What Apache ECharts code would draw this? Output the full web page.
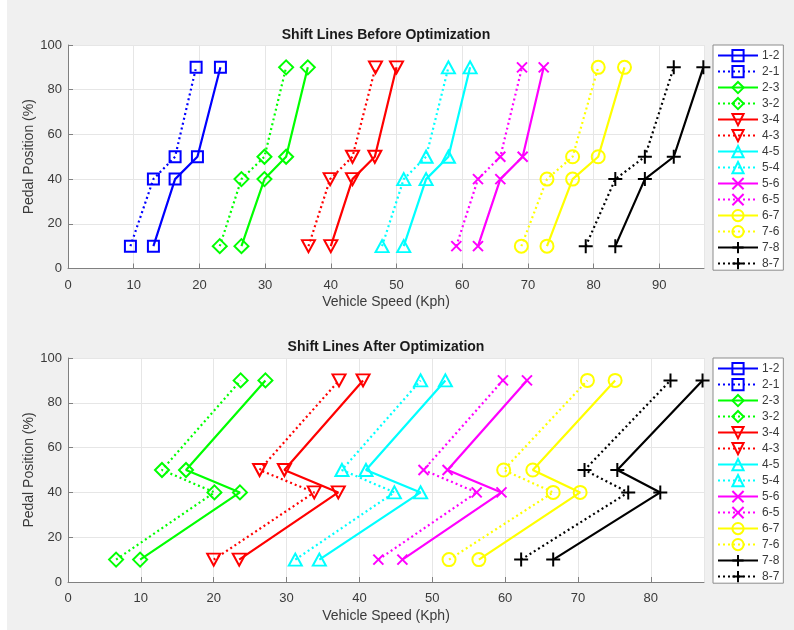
<!DOCTYPE html>
<html>
<head>
<meta charset="utf-8">
<script src="https://cdn.jsdelivr.net/npm/echarts@6/dist/echarts.min.js"></script>
<style>
html,body{margin:0;padding:0;background:#ffffff;}
#chart{width:794px;height:630px;}
</style>
</head>
<body>
<div id="chart"></div>
<script>
// ---- data ----
const names = ['1-2','2-1','2-3','3-2','3-4','4-3','4-5','5-4','5-6','6-5','6-7','7-6','7-8','8-7'];
const pedal = [10, 40, 50, 90];

// Before optimization (vehicle speed at pedal 10, 40, 50, 90)
const before_12 = [13.0, 16.3, 19.7, 23.2];
const before_21 = [9.5, 13.0, 16.3, 19.5];
const before_23 = [26.4, 29.9, 33.2, 36.5];
const before_32 = [23.1, 26.4, 29.9, 33.2];
const before_34 = [40.0, 43.3, 46.7, 50.0];
const before_43 = [36.6, 39.9, 43.3, 46.8];
const before_45 = [51.1, 54.5, 57.9, 61.2];
const before_54 = [47.8, 51.1, 54.5, 57.9];
const before_56 = [62.4, 65.8, 69.2, 72.4];
const before_65 = [59.1, 62.4, 65.8, 69.1];
const before_67 = [72.9, 76.8, 80.7, 84.7];
const before_76 = [69.0, 72.9, 76.8, 80.7];
const before_78 = [83.3, 87.8, 92.2, 96.7];
const before_87 = [78.8, 83.3, 87.8, 92.2];

// After optimization (1-2 / 2-1 not drawn in the reference)
const after_12 = [];
const after_21 = [];
const after_23 = [9.9, 23.6, 16.2, 27.1];
const after_32 = [6.6, 20.1, 12.9, 23.7];
const after_34 = [23.5, 37.1, 29.7, 40.5];
const after_43 = [20.0, 33.8, 26.3, 37.2];
const after_45 = [34.5, 48.4, 40.9, 51.8];
const after_54 = [31.2, 44.8, 37.6, 48.4];
const after_56 = [45.9, 59.5, 52.1, 63.0];
const after_65 = [42.6, 56.1, 48.8, 59.7];
const after_67 = [56.4, 70.3, 63.8, 75.1];
const after_76 = [52.3, 66.6, 59.8, 71.3];
const after_78 = [66.6, 81.3, 75.4, 87.1];
const after_87 = [62.2, 76.9, 70.9, 82.7];

const beforeSets = [before_12,before_21,before_23,before_32,before_34,before_43,before_45,before_54,before_56,before_65,before_67,before_76,before_78,before_87];
const afterSets = [after_12,after_21,after_23,after_32,after_34,after_43,after_45,after_54,after_56,after_65,after_67,after_76,after_78,after_87];

const titles = ['Shift Lines Before Optimization', 'Shift Lines After Optimization'];
const xTickMax = [96.8, 87.3];

// ---- styles ----
const colors = ['#0000ff','#00ff00','#ff0000','#00ffff','#ff00ff','#ffff00','#000000'];
const symbols = [
  'rect',
  'diamond',
  'path://M0,0L10,0L5,9Z',
  'triangle',
  'path://M0,0L10,10M0,10L10,0',
  'circle',
  'path://M5,0L5,10M0,5L10,5'
];
const symbolSizes = [[11,11],[14,14],[13,12],[13,12],[10,10],[13,13],[14,14]];

const gridTops = [45, 358];
const gridH = [223.5, 224];
const gridLeft = 68, gridW = 636;

const font = '"Liberation Sans", Arial, sans-serif';
const axisColor = '#808080';
const textColor = '#3a3a3a';

function zip(xs){ return xs.map((x,i)=>[x, pedal[i]]); }

const series = [];
[beforeSets, afterSets].forEach((sets, g) => {
  sets.forEach((xs, i) => {
    const k = Math.floor(i/2);
    const c = colors[k];
    series.push({
      type: 'line',
      name: names[i],
      xAxisIndex: g,
      yAxisIndex: g,
      data: zip(xs),
      symbol: symbols[k],
      symbolSize: symbolSizes[k],
      showSymbol: true,
      animation: false,
      lineStyle: { color: c, width: 2.2, type: (i % 2 === 0) ? 'solid' : [2, 3] },
      itemStyle: { color: 'rgba(255,255,255,0)', borderColor: c, borderWidth: 2 },
      emphasis: { disabled: true },
      z: 2
    });
  });
});

const grids = [0,1].map(g => ({
  left: gridLeft, top: gridTops[g], width: gridW, height: gridH[g],
  show: true, backgroundColor: '#ffffff', borderWidth: 0
}));

const xAxes = [0,1].map(g => ({
  type: 'value', gridIndex: g, min: 0, max: xTickMax[g], interval: 10,
  name: 'Vehicle Speed (Kph)', nameLocation: 'middle', nameGap: 27, nameMoveOverlap: false,
  nameTextStyle: { fontFamily: font, fontSize: 14, color: textColor },
  axisLine: { show: true, onZero: false, lineStyle: { color: axisColor, width: 1 } },
  axisTick: { show: true, inside: true, length: 5, lineStyle: { color: axisColor } },
  axisLabel: { fontFamily: font, fontSize: 13, color: textColor, margin: 10, showMaxLabel: false },
  splitLine: { show: true, lineStyle: { color: '#e6e6e6', width: 1 } }
}));

const yAxes = [0,1].map(g => ({
  type: 'value', gridIndex: g, min: 0, max: 100, interval: 20,
  name: 'Pedal Position (%)', nameLocation: 'middle', nameGap: 32, nameRotate: 90, nameMoveOverlap: false,
  nameTextStyle: { fontFamily: font, fontSize: 14, color: textColor },
  axisLine: { show: true, onZero: false, lineStyle: { color: axisColor, width: 1 } },
  axisTick: { show: true, inside: true, length: 5, lineStyle: { color: axisColor } },
  axisLabel: { fontFamily: font, fontSize: 13, color: textColor, margin: 6 },
  splitLine: { show: true, lineStyle: { color: '#e6e6e6', width: 1 } }
}));

const legends = [0,1].map(g => ({
  data: names,
  orient: 'vertical',
  left: 713,
  top: gridTops[g],
  itemWidth: 40,
  itemHeight: 14,
  itemGap: 2.8,
  padding: [4, 4, 0, 4],
  backgroundColor: '#ffffff',
  borderColor: '#8c8c8c',
  borderWidth: 1,
  borderRadius: 0,
  selectedMode: false,
  textStyle: { fontFamily: font, fontSize: 12, color: textColor, padding: [0,0,0,-1] }
}));

const graphics = [
  { type: 'rect', left: 0, top: 0, shape: { width: 7, height: 630 }, style: { fill: '#ffffff' }, silent: true },
  { type: 'text', x: gridLeft + gridW/2, y: 35, style: { text: titles[0], font: 'bold 14px ' + font, fill: '#1a1a1a', textAlign: 'center', textVerticalAlign: 'middle' } },
  { type: 'text', x: gridLeft + gridW/2, y: 347, style: { text: titles[1], font: 'bold 14px ' + font, fill: '#1a1a1a', textAlign: 'center', textVerticalAlign: 'middle' } }
];

const chart = echarts.init(document.getElementById('chart'), null, { renderer: 'canvas', width: 794, height: 630 });
chart.setOption({
  backgroundColor: '#f0f0f0',
  animation: false,
  grid: grids,
  xAxis: xAxes,
  yAxis: yAxes,
  legend: legends,
  graphic: graphics,
  series: series
});
</script>
</body>
</html>
